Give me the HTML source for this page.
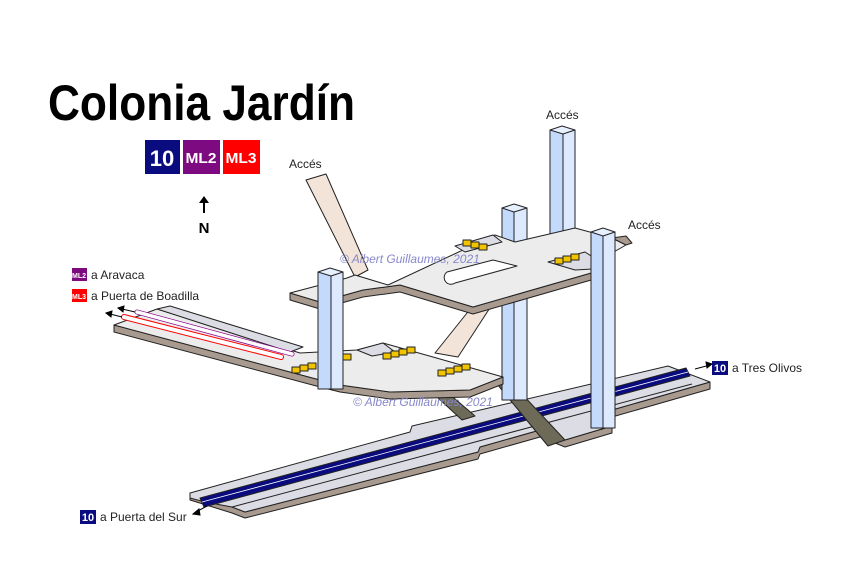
<!DOCTYPE html>
<html><head><meta charset="utf-8"><style>
body{margin:0;background:#fff;}
svg{display:block;font-family:"Liberation Sans",sans-serif;}
</style></head><body>
<svg width="843" height="575" viewBox="0 0 843 575" xmlns="http://www.w3.org/2000/svg">
<rect width="843" height="575" fill="#fff"/>
<text x="48" y="120" font-size="50" font-weight="bold" fill="#000" textLength="307" lengthAdjust="spacingAndGlyphs">Colonia Jardín</text>
<g>
<rect x="145" y="140" width="35" height="34" fill="#0b0b80"/><text x="162" y="166" font-size="22" font-weight="bold" fill="#fff" text-anchor="middle">10</text>
<rect x="183" y="140" width="37" height="34" fill="#7d0a80"/><text x="201" y="163" font-size="15" font-weight="bold" fill="#fff" text-anchor="middle" textLength="31" lengthAdjust="spacingAndGlyphs">ML2</text>
<rect x="223" y="140" width="37" height="34" fill="#ff0000"/><text x="241" y="163" font-size="15" font-weight="bold" fill="#fff" text-anchor="middle" textLength="31" lengthAdjust="spacingAndGlyphs">ML3</text>
</g>
<g>
<line x1="204" y1="213" x2="204" y2="202" stroke="#000" stroke-width="2"/><polygon points="199,203 209,203 204,196" fill="#000"/>
<text x="204" y="233" font-size="15" font-weight="bold" text-anchor="middle">N</text>
</g>

<g stroke="#222" stroke-width="1" stroke-linejoin="round">
<!-- track level -->
<g>
<polygon points="190,493 232,507 245,512 478,452 480,447 540,430 565,440 612,426 612,433 565,447 540,437 480,454 478,459 245,518 232,513 190,500" fill="#a89a8e"/>
<polygon points="612,410 710,382 710,389 612,417" fill="#a89a8e"/>
<polygon points="190,493 410,432 412,426 668,366 710,382 612,410 612,426 565,440 540,430 480,447 478,452 245,512 232,507 205,502 190,498" fill="#dcdce4"/>
<polygon points="200,498 686,368 690,376 204,507" fill="#0b0b80"/>
<line x1="202" y1="502" x2="688" y2="372" stroke="#fff" stroke-width="0.8"/>
<line x1="232" y1="507" x2="692" y2="384" stroke="#222"/>
</g>
<!-- dark ramps to track -->
<polygon points="425,386 440,386 475,416 462,420" fill="#6e6a58"/>
<polygon points="492,378 507,378 565,440 548,446" fill="#6e6a58"/>
<!-- pillars behind -->
<g>
<rect x="502" y="208" width="12" height="192" fill="#c4dafc"/><rect x="514" y="208" width="13" height="192" fill="#dce9ff"/><polygon points="502,208 514,204 527,208 514,212" fill="#e6f0ff"/>
</g>
<g>
<rect x="550" y="130" width="13" height="110" fill="#c4dafc"/><rect x="563" y="130" width="12" height="110" fill="#dce9ff"/><polygon points="550,130 562,126 575,130 563,134" fill="#e6f0ff"/>
</g>
<!-- left ML platform + lower mezzanine -->
<g>
<polygon points="114,325 320,380 340,385 390,392 470,390 503,377 503,384 470,397 390,399 340,392 320,387 114,332" fill="#a89a8e"/>
<polygon points="114,325 157,309 300,353 357,350 383,343 433,357 503,377 470,390 390,392 340,385 320,380" fill="#ececec"/>
<polygon points="157,309 170,306 303,347 290,352" fill="#dcdce4"/>
<polygon points="383,343 357,350 372,356 395,352" fill="#dcdce4"/>
</g>
<g fill="none">
<line x1="124" y1="317" x2="281" y2="357" stroke="#ff0000" stroke-width="6" stroke-linecap="round"/>
<line x1="124" y1="317" x2="281" y2="357" stroke="#fff" stroke-width="4" stroke-linecap="round"/>
<line x1="137" y1="312" x2="292" y2="354" stroke="#8b008b" stroke-width="5" stroke-linecap="round"/>
<line x1="137" y1="312" x2="292" y2="354" stroke="#fff" stroke-width="3.5" stroke-linecap="round"/>
</g>
<!-- ramps -->
<polygon points="306,180 326,174 368,270 355,277" fill="#f2e4d8"/>
<polygon points="435,353 458,357 497,297 475,303" fill="#f2e4d8"/>
<!-- upper mezzanine -->
<g>
<polygon points="290,293 320,302 363,290 400,285 473,307 612,267 612,274 473,314 400,292 363,297 320,309 290,300" fill="#a89a8e"/>
<polygon points="290,293 347,278 355,275 388,285 495,235 515,242 575,228 612,238 626,245 612,253 612,267 473,307 400,285 363,290 320,302" fill="#ececec"/>
<polygon points="455,246 493,235 502,242 465,252" fill="#dcdce4"/>
<polygon points="548,262 585,252 610,268 575,270" fill="#dcdce4"/>
<path d="M447,272 L493,260 L517,266 L455,283 A6,6 0 0 1 447,272 Z" fill="#fff"/>
<polygon points="612,238 626,236 632,243 626,245" fill="#a89a8e"/>
</g>
<!-- escalators -->
<g fill="#f2c400">
<rect x="463" y="240" width="8" height="6"/><rect x="471" y="242" width="8" height="6"/><rect x="479" y="244" width="8" height="6"/>
<rect x="555" y="258" width="8" height="6"/><rect x="563" y="256" width="8" height="6"/><rect x="571" y="254" width="8" height="6"/>
<rect x="292" y="367" width="8" height="6"/><rect x="300" y="365" width="8" height="6"/><rect x="308" y="363" width="8" height="6"/>
<rect x="343" y="354" width="8" height="6"/><rect x="383" y="353" width="8" height="6"/><rect x="391" y="351" width="8" height="6"/><rect x="399" y="349" width="8" height="6"/><rect x="407" y="347" width="8" height="6"/>
<rect x="438" y="370" width="8" height="6"/><rect x="446" y="368" width="8" height="6"/><rect x="454" y="366" width="8" height="6"/><rect x="462" y="364" width="8" height="6"/>
</g>
<!-- front pillars -->
<g>
<rect x="318" y="272" width="13" height="117" fill="#c4dafc"/><rect x="331" y="272" width="12" height="117" fill="#dce9ff"/><polygon points="318,272 330,268 343,272 331,276" fill="#e6f0ff"/>
</g>
<g>
<rect x="591" y="232" width="12" height="196" fill="#c4dafc"/><rect x="603" y="232" width="12" height="196" fill="#dce9ff"/><polygon points="591,232 603,228 615,232 603,236" fill="#e6f0ff"/>
</g>
</g>

<g font-size="12" fill="#222">
<text x="289" y="168">Accés</text>
<text x="546" y="119">Accés</text>
<text x="628" y="229">Accés</text>
</g>
<text x="340" y="263" font-size="12" font-style="italic" fill="#8888cc">© Albert Guillaumes, 2021</text>
<text x="353" y="406" font-size="12" font-style="italic" fill="#8888cc">© Albert Guillaumes, 2021</text>

<g>
<rect x="72" y="268" width="15" height="13" fill="#7d0a80"/><text x="79" y="278" font-size="7" font-weight="bold" fill="#fff" text-anchor="middle">ML2</text>
<text x="91" y="279" font-size="12" fill="#222">a Aravaca</text>
</g>
<g>
<rect x="72" y="289" width="15" height="13" fill="#ff0000"/><text x="79" y="299" font-size="7" font-weight="bold" fill="#fff" text-anchor="middle">ML3</text>
<text x="91" y="300" font-size="12" fill="#222">a Puerta de Boadilla</text>
</g>
<g stroke="#000" stroke-width="1">
<line x1="122" y1="317" x2="110" y2="314"/><polygon points="106,313 112,311 111,317" fill="#000"/>
<line x1="135" y1="312" x2="122" y2="309"/><polygon points="118,308 124,306 123,312" fill="#000"/>
<line x1="695" y1="369" x2="710" y2="365"/><polygon points="712,364 706,362 707,368" fill="#000"/>
<line x1="207" y1="506" x2="196" y2="512"/><polygon points="193,514 199,509 200,515" fill="#000"/>
</g>
<g>
<rect x="712" y="361" width="16" height="14" fill="#0b0b80"/><text x="720" y="372" font-size="11" font-weight="bold" fill="#fff" text-anchor="middle">10</text>
<text x="732" y="372" font-size="12" fill="#222">a Tres Olivos</text>
</g>
<g>
<rect x="80" y="510" width="16" height="14" fill="#0b0b80"/><text x="88" y="521" font-size="11" font-weight="bold" fill="#fff" text-anchor="middle">10</text>
<text x="100" y="521" font-size="12" fill="#222">a Puerta del Sur</text>
</g>
</svg>
</body></html>
